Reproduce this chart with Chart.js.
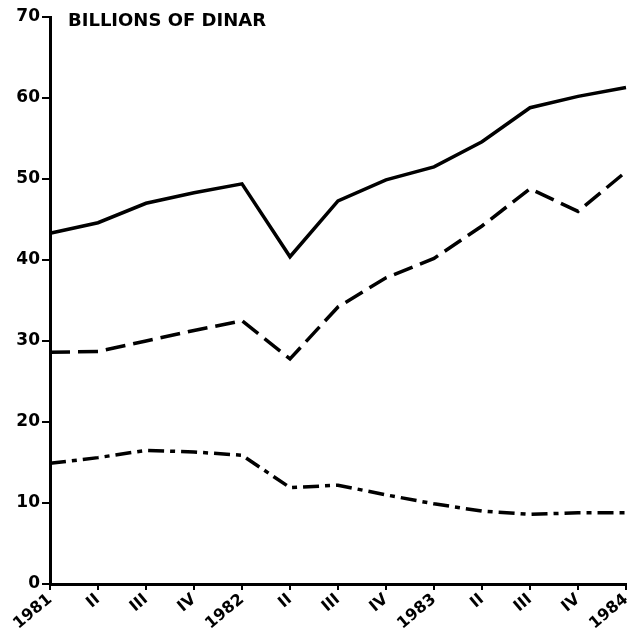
<!DOCTYPE html>
<html>
<head>
<meta charset="utf-8">
<script src="https://cdn.jsdelivr.net/npm/chart.js@4/dist/chart.umd.min.js"></script>
<style>
  html, body { margin: 0; padding: 0; background: #fff; }
  #wrap { width: 629px; height: 637px; position: relative; }
</style>
</head>
<body>
<div id="wrap"><canvas id="c" width="629" height="637"></canvas></div>
<script>
const categories = ["1981", "II", "III", "IV", "1982", "II", "III", "IV", "1983", "II", "III", "IV", "1984"];
const solidSeries = [43.3, 44.6, 47.0, 48.3, 49.4, 40.4, 47.3, 49.9, 51.5, 54.6, 58.8, 60.2, 61.3];
const dashedSeries = [28.6, 28.7, 30.0, 31.3, 32.5, 27.8, 34.2, 37.8, 40.2, 44.2, 48.8, 46.0, 50.9];
const dashDotSeries = [14.9, 15.6, 16.5, 16.3, 15.9, 11.9, 12.2, 11.0, 9.9, 9.0, 8.6, 8.8, 8.8];
const yTicks = [0, 10, 20, 30, 40, 50, 60, 70];
const unitLabel = "BILLIONS OF DINAR";

const FONT = "'DejaVu Sans', sans-serif";

const titlePlugin = {
  id: 'unitTitle',
  afterDraw(chart) {
    const ctx = chart.ctx;
    const area = chart.chartArea;
    ctx.save();
    ctx.fillStyle = '#000';
    ctx.font = "bold 18px " + FONT;
    ctx.textBaseline = 'middle';
    ctx.textAlign = 'left';
    ctx.fillText(unitLabel, area.left + 18, area.top + 4);
    ctx.restore();
  }
};

new Chart(document.getElementById('c'), {
  type: 'line',
  data: {
    labels: categories,
    datasets: [
      { data: solidSeries, borderColor: '#000', borderWidth: 3.5, pointRadius: 0, tension: 0, fill: false },
      { data: dashedSeries, borderColor: '#000', borderWidth: 3.5, borderDash: [20, 8], pointRadius: 0, tension: 0, fill: false },
      { data: dashDotSeries, borderColor: '#000', borderWidth: 3.5, borderDash: [16, 6, 5, 6], pointRadius: 0, tension: 0, fill: false }
    ]
  },
  options: {
    responsive: false,
    animation: false,
    layout: { padding: { top: 17, right: 3, left: 0, bottom: 0 } },
    plugins: { legend: { display: false }, tooltip: { enabled: false } },
    scales: {
      x: {
        offset: false,
        grid: { drawOnChartArea: false, drawTicks: true, tickLength: 6, color: '#000', lineWidth: 2 },
        border: { display: true, color: '#000', width: 3 },
        ticks: {
          color: '#000',
          font: { family: FONT, weight: 'bold', size: 16 },
          minRotation: 40, maxRotation: 40,
          padding: 0,
          autoSkip: false
        },
        afterFit(scale) { scale.height = 53; scale.paddingRight = 0; scale.paddingLeft = 0; }
      },
      y: {
        min: 0, max: 70,
        afterBuildTicks(scale) { scale.ticks = yTicks.map(v => ({ value: v })); },
        grid: { drawOnChartArea: false, drawTicks: true, tickLength: 8, color: '#000', lineWidth: 2 },
        border: { display: true, color: '#000', width: 3 },
        ticks: {
          color: '#000',
          font: { family: FONT, weight: 'bold', size: 17 },
          padding: 2
        },
        afterFit(scale) { scale.width = 50; scale.paddingTop = 0; scale.paddingBottom = 0; }
      }
    }
  },
  plugins: [titlePlugin]
});
</script>
</body>
</html>
